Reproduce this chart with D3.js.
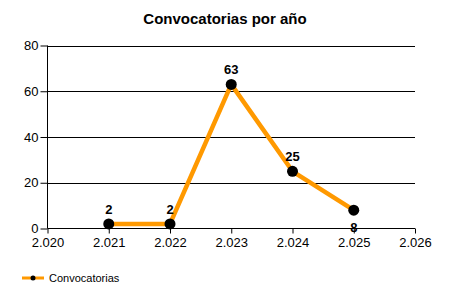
<!DOCTYPE html>
<html><head><meta charset="utf-8">
<script src="https://cdn.jsdelivr.net/npm/d3@7"></script>
<style>body{margin:0;background:#fff}svg{display:block}text{font-family:"Liberation Sans",Arial,sans-serif}</style>
</head><body>
<svg id="c" width="450" height="300"></svg>
<script>
const years = [2021, 2022, 2023, 2024, 2025];
const values = [2, 2, 63, 25, 8];
const xTicks = [2020, 2021, 2022, 2023, 2024, 2025, 2026];
const yTicks = [0, 20, 40, 60, 80];
const title = "Convocatorias por año";
const seriesName = "Convocatorias";

const svg = d3.select("#c");
const x = d3.scaleLinear().domain([2020, 2026]).range([47.5, 415]);
const y = d3.scaleLinear().domain([0, 80]).range([228.5, 45.5]);

svg.append("text").attr("x", 225).attr("y", 24).attr("text-anchor", "middle")
  .attr("font-size", 15).attr("font-weight", "bold").text(title);

// grid
svg.append("g").selectAll("line").data(yTicks.filter(d=>d>0)).join("line")
  .attr("x1", 47.5).attr("x2", 415).attr("y1", d=>Math.round(y(d))+0.5).attr("y2", d=>Math.round(y(d))+0.5)
  .attr("stroke", "#000").attr("stroke-width", 1);

const ya = svg.append("g").attr("transform", "translate(47.5,0)")
  .call(d3.axisLeft(y).tickValues(yTicks).tickSize(7).tickPadding(2).tickFormat(d3.format("d")));
ya.select(".domain").attr("d", `M0,${y(80)}V${y(0)}`);
ya.selectAll("text").attr("font-size", 13).attr("font-family", '"Liberation Sans",Arial,sans-serif').attr("fill", "#000");

const xa = svg.append("g").attr("transform", "translate(0,228.5)")
  .call(d3.axisBottom(x).tickValues(xTicks).tickSize(5).tickPadding(4).tickFormat(d => (d/1000).toFixed(3)));
xa.select(".domain").attr("d", `M${x(2020)},0H${x(2026)}`);
xa.selectAll("text").attr("font-size", 13).attr("font-family", '"Liberation Sans",Arial,sans-serif').attr("fill", "#000");

const line = d3.line().x((d,i)=>x(years[i])).y(d=>y(d));
svg.append("path").datum(values).attr("d", line).attr("fill", "none")
  .attr("stroke", "#FF9900").attr("stroke-width", 4.5).attr("stroke-linejoin", "round");

svg.append("g").selectAll("circle").data(values).join("circle")
  .attr("cx", (d,i)=>x(years[i])).attr("cy", d=>y(d)).attr("r", 5.5).attr("fill", "#000");

svg.append("g").selectAll("text").data(values).join("text")
  .attr("x", (d,i)=>x(years[i])).attr("y", (d,i)=> i===values.length-1 ? y(d)+22 : y(d)-10)
  .attr("text-anchor", "middle").attr("font-size", 13).attr("font-weight", "bold").text(d=>d);

// legend
const lg = svg.append("g");
lg.append("line").attr("x1", 22).attr("x2", 44).attr("y1", 278).attr("y2", 278).attr("stroke", "#FF9900").attr("stroke-width", 3);
lg.append("circle").attr("cx", 33).attr("cy", 278).attr("r", 2.5).attr("fill", "#000");
lg.append("text").attr("x", 49).attr("y", 282).attr("font-size", 11).text(seriesName);
</script>
</body></html>
